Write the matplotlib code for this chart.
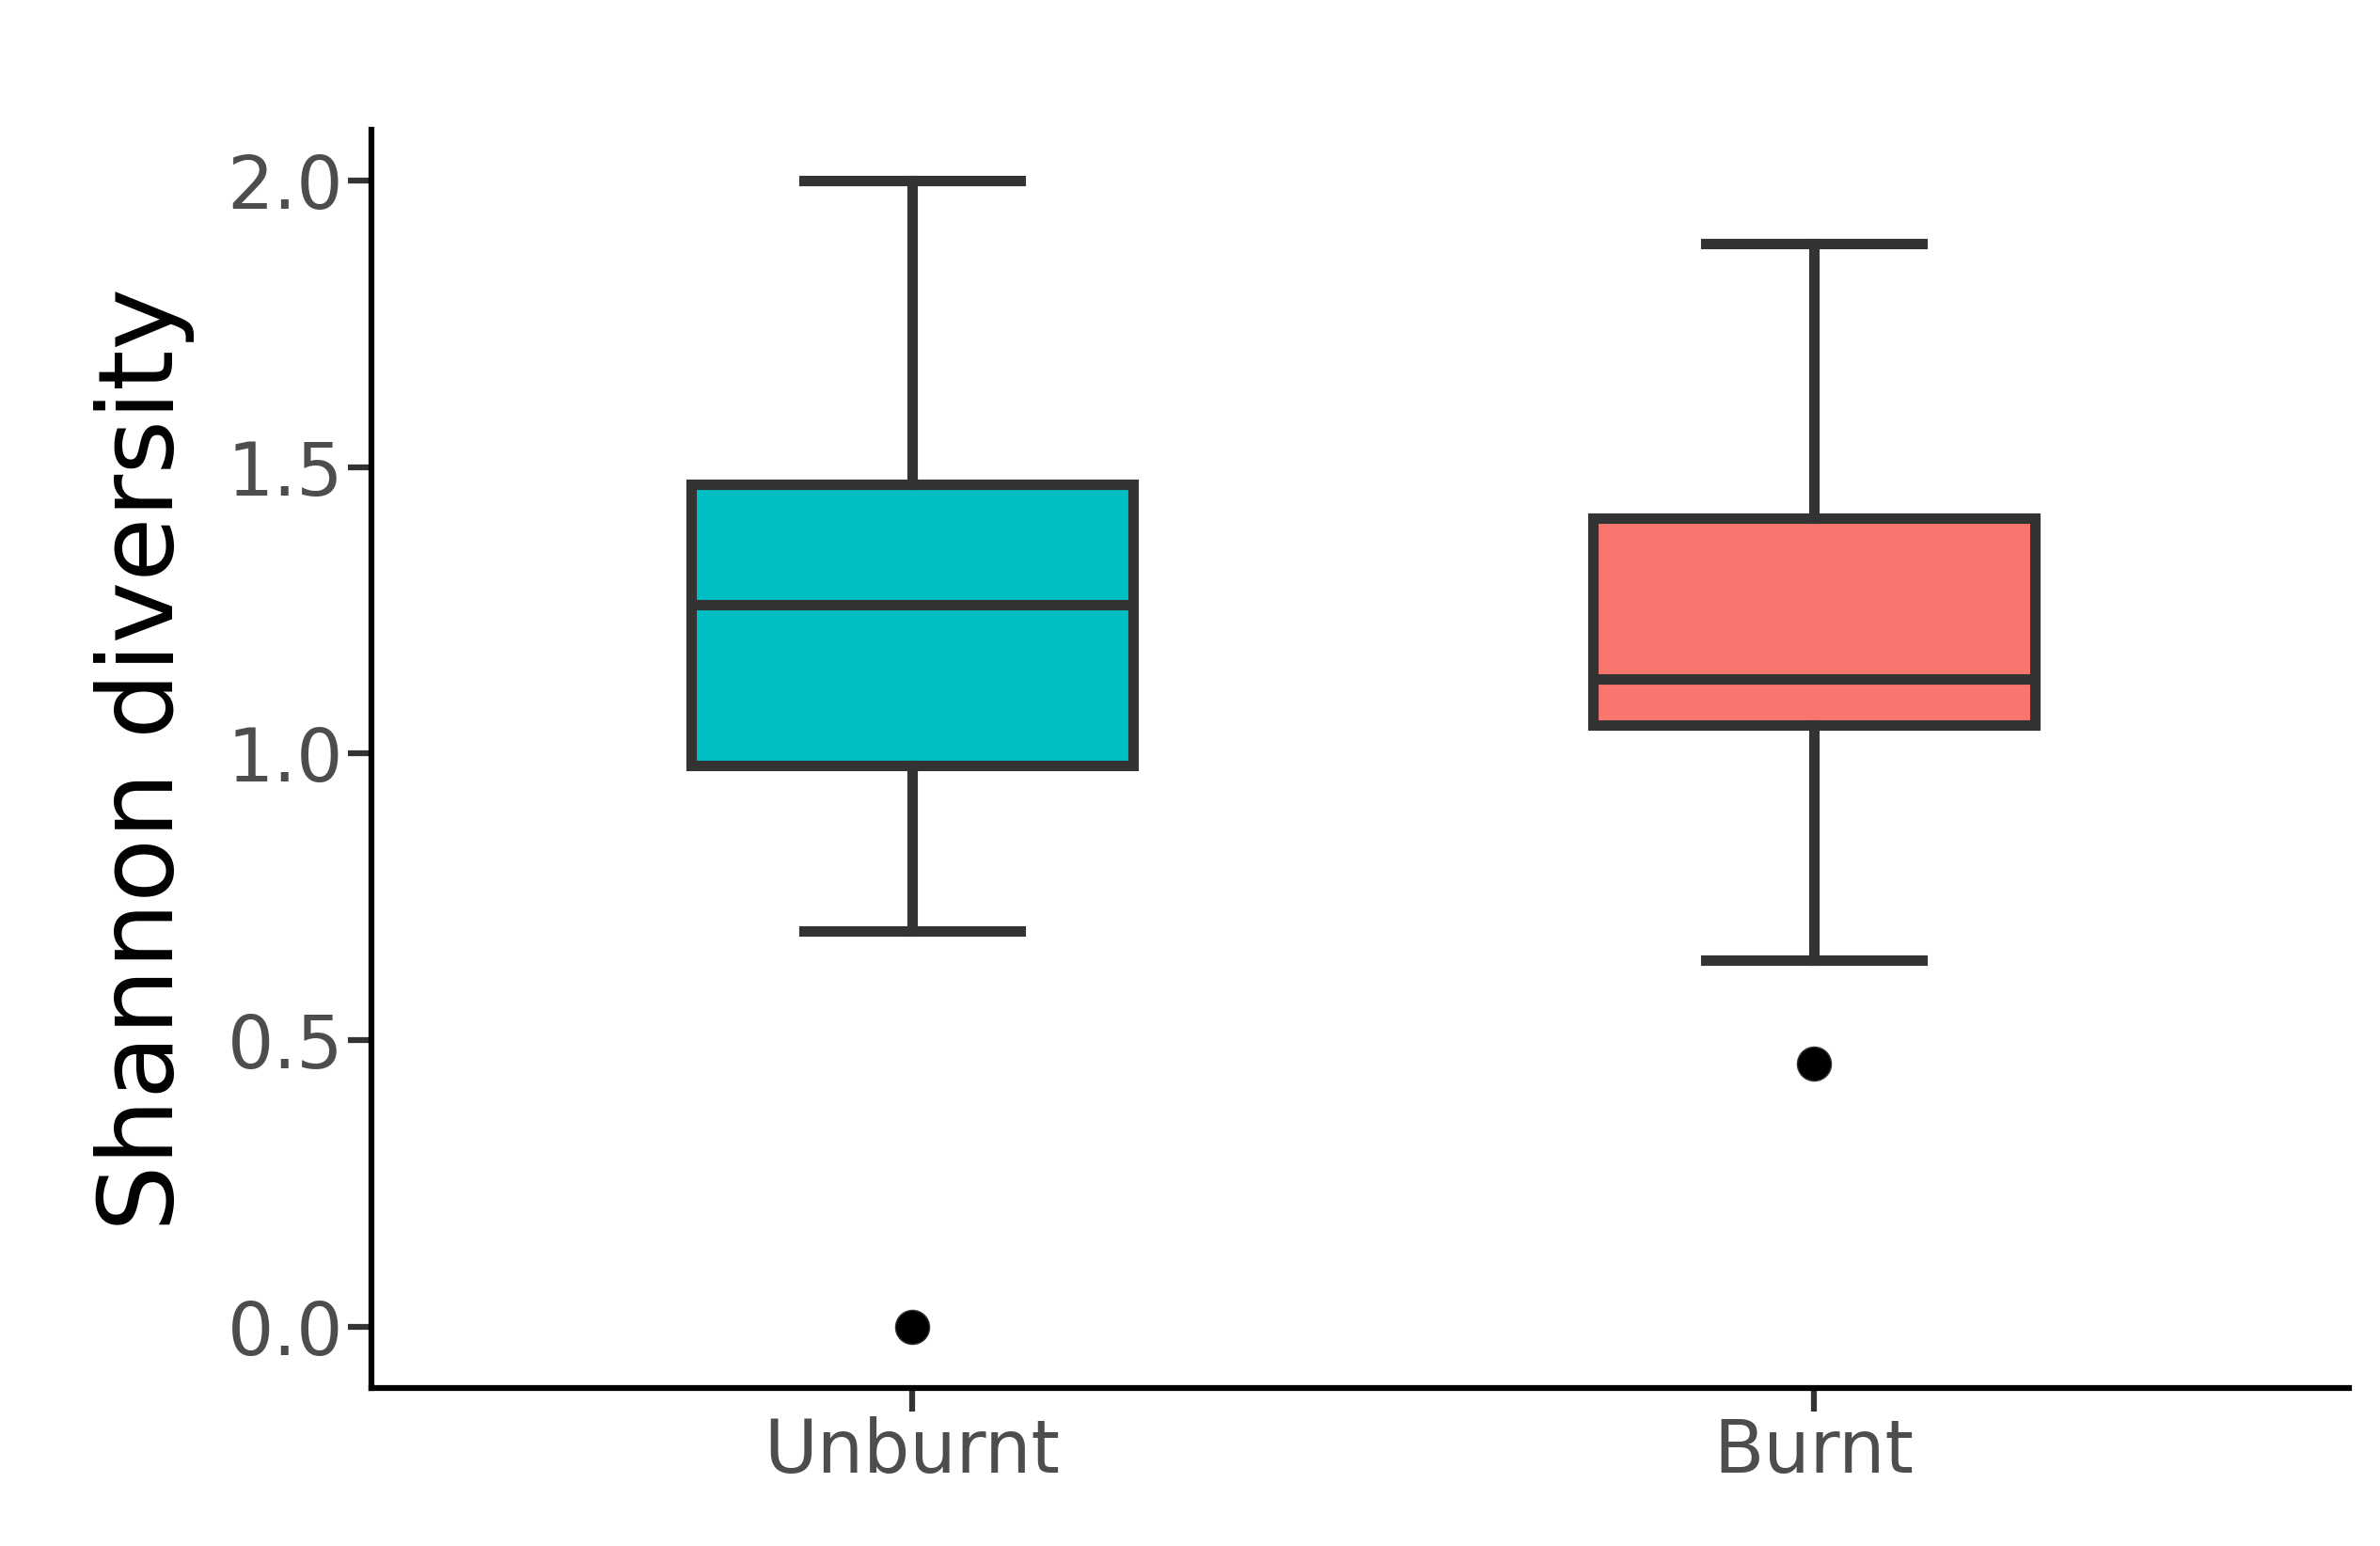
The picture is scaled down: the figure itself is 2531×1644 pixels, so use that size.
import matplotlib
matplotlib.use('Agg')
import matplotlib.pyplot as plt

groups = ['Unburnt', 'Burnt']
colors = ['#00BFC4', '#F8766D']
whislo = [0.69, 0.64]
q1 = [0.98, 1.05]
med = [1.26, 1.13]
q3 = [1.47, 1.41]
whishi = [2.0, 1.89]
fliers = [[0.0], [0.46]]

stats = []
for i, g in enumerate(groups):
    stats.append(dict(label=g, whislo=whislo[i], q1=q1[i], med=med[i],
                      q3=q3[i], whishi=whishi[i], fliers=fliers[i]))

fig = plt.figure(figsize=(25.31, 16.44), dpi=100)
ax = fig.add_axes([0.156, 0.102, 0.831, 0.814])
edge = '#333333'
lw = 8
bp = ax.bxp(stats, positions=[1, 2], widths=0.49, patch_artist=True,
            boxprops=dict(edgecolor=edge, linewidth=lw),
            medianprops=dict(color=edge, linewidth=lw),
            whiskerprops=dict(color=edge, linewidth=lw),
            capprops=dict(color=edge, linewidth=lw),
            capwidths=0.24,
            flierprops=dict(marker='o', markerfacecolor='black', markeredgecolor=edge,
                            markersize=26))
for patch, c in zip(bp['boxes'], colors):
    patch.set_facecolor(c)

ax.set_xlim(0.4, 2.594)
ax.set_ylim(-0.107, 2.088)
ax.set_yticks([0.0, 0.5, 1.0, 1.5, 2.0])
ax.set_yticklabels(['0.0', '0.5', '1.0', '1.5', '2.0'])
ax.spines['top'].set_visible(False)
ax.spines['right'].set_visible(False)
for s in ['left', 'bottom']:
    ax.spines[s].set_linewidth(4.5)
ax.tick_params(axis='both', labelsize=56, labelcolor='#4d4d4d', width=4.5, length=18, color='#333333')
ax.set_ylabel('Shannon diversity', fontsize=80, labelpad=25)
fig.savefig('out.png')
